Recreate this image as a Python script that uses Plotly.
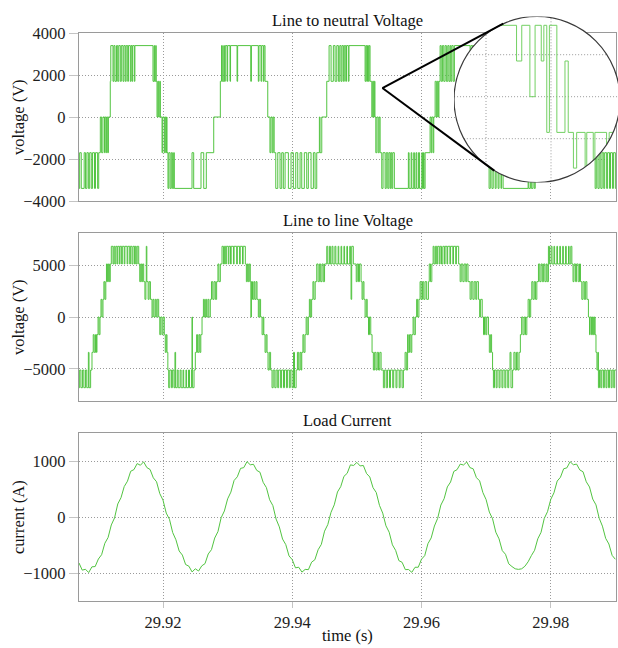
import math
import plotly.graph_objects as go

# ---------------------------------------------------------------- data
T_BASE_S = 29.9      # time origin of every "ms" value below (s)
STEP_V = 1700.0      # one DC-link level step (V)

# line-to-neutral voltage: (time in ms after 29.9 s, level index) - step changes
ln_steps = [
    (7.00, -2), (7.10, -1), (7.35, -2), (7.80, -1), (8.00, -2), (8.22, -1), (8.45, -2), (8.65, -1),
    (8.90, -2), (9.10, -1), (9.40, -2), (9.55, -1), (9.88, -2), (10.05, -1), (10.30, 0), (10.50, -1),
    (10.70, 0), (10.95, -1), (11.05, 0), (11.22, -1), (11.30, 0), (11.45, -1), (11.55, 0), (11.84, 1),
    (11.92, 2), (12.26, 1), (12.40, 2), (12.57, 1), (12.80, 2), (12.99, 1), (13.15, 2), (13.39, 1),
    (13.55, 2), (13.81, 1), (13.95, 2), (14.16, 1), (14.30, 2), (14.54, 1), (14.65, 2), (14.94, 1),
    (15.05, 2), (15.20, 1), (15.30, 2), (15.56, 1), (15.65, 2), (18.45, 1), (18.62, 2), (18.70, 1),
    (18.87, 2), (18.95, 1), (19.07, 0), (19.20, 1), (19.33, 0), (19.50, 1), (19.59, 0), (19.85, -1),
    (19.95, 0), (20.20, -1), (20.30, 0), (20.42, -1), (20.55, 0), (20.62, -1), (20.77, -2), (20.90, -1),
    (21.10, -2), (21.28, -1), (21.45, -2), (21.65, -1), (21.75, -2), (24.49, -1), (24.75, -2), (25.88, -1),
    (26.30, -2), (26.70, -1), (27.85, 0), (28.87, 1), (29.05, 2), (29.18, 1), (29.40, 2), (29.50, 1),
    (29.64, 2), (29.91, 1), (30.00, 2), (30.37, 1), (30.45, 2), (31.46, 1), (31.55, 2), (33.58, 1),
    (33.68, 2), (34.75, 1), (34.85, 2), (35.17, 1), (35.27, 2), (35.53, 1), (35.63, 2), (35.79, 1),
    (36.21, 0), (36.55, -1), (36.70, 0), (36.90, -1), (37.05, 0), (37.20, -1), (37.45, -2), (37.76, -1),
    (38.11, -2), (38.37, -1), (38.62, -2), (38.89, -1), (39.40, -2), (39.81, -1), (40.17, -2), (40.54, -1),
    (40.85, -2), (41.21, -1), (41.47, -2), (41.87, -1), (42.24, -2), (42.49, -1), (42.91, -2), (43.27, -1),
    (43.53, -2), (43.79, -1), (44.20, 0), (44.30, -1), (44.57, 0), (45.34, 1), (45.70, 2), (46.01, 1),
    (46.36, 2), (46.63, 1), (46.89, 2), (47.14, 1), (47.35, 2), (47.55, 1), (47.70, 2), (47.91, 1),
    (48.05, 2), (48.28, 1), (48.40, 2), (48.68, 1), (48.78, 2), (51.27, 1), (51.40, 2), (51.53, 1),
    (51.65, 2), (51.78, 1), (51.90, 2), (52.04, 1), (52.31, 0), (52.45, 1), (52.60, 0), (52.70, 1),
    (52.80, 0), (52.93, -1), (53.10, 0), (53.30, -1), (53.45, 0), (53.60, -1), (53.85, -2), (54.05, -1),
    (54.37, -2), (54.55, -1), (54.78, -2), (54.95, -1), (55.14, -2), (55.25, -1), (55.40, -2), (55.55, -1),
    (55.80, -2), (57.97, -1), (58.08, -2), (58.40, -1), (58.50, -2), (58.80, -1), (58.90, -2), (59.15, -1),
    (59.27, -2), (59.53, -1), (59.70, -2), (60.05, -1), (60.15, -2), (60.31, -1), (60.40, -2), (60.56, -1),
    (61.33, 0), (61.50, -1), (61.60, 0), (61.80, -1), (61.90, 0), (62.11, 1), (62.30, 0), (62.45, 1),
    (62.60, 0), (62.70, 1), (62.88, 2), (63.05, 1), (63.24, 2), (63.45, 1), (63.65, 2), (63.85, 1),
    (64.07, 2), (64.25, 1), (64.43, 2), (64.55, 1), (64.69, 2), (64.90, 1), (65.09, 2), (67.52, 1),
    (67.65, 2), (67.90, 1), (68.00, 2), (68.30, 1), (68.40, 2), (68.60, 1), (68.76, 0), (68.95, 1),
    (69.10, 0), (69.30, 1), (69.40, 0), (69.54, -1), (69.70, 0), (69.90, -1), (70.05, 0), (70.25, -1),
    (70.46, -2), (70.65, -1), (70.90, -2), (71.10, -1), (71.40, -2), (71.55, -1), (71.85, -2), (72.00, -1),
    (72.30, -2), (72.40, -1), (72.63, -2), (76.50, -1), (76.60, -2), (76.85, -1), (77.00, -2), (77.25, -1),
    (77.45, -2), (77.60, -1), (78.36, 0), (78.98, 1), (79.10, 2), (79.35, 1), (79.50, 2), (79.75, 1),
    (79.95, 2), (80.20, 1), (80.40, 2), (80.65, 1), (80.80, 2), (81.10, 1), (81.20, 2), (83.78, 1),
    (83.90, 2), (84.20, 1), (84.35, 2), (84.65, 1), (84.75, 2), (85.10, 1), (85.33, 0), (85.50, 1),
    (85.65, 0), (85.85, 1), (85.95, 0), (86.10, -1), (86.30, 0), (86.45, -1), (86.60, 0), (86.70, -1),
    (86.87, -2), (87.05, -1), (87.30, -2), (87.50, -1), (87.75, -2), (87.95, -1), (88.20, -2), (88.35, -1),
    (88.65, -2), (88.80, -1), (89.10, -2), (89.25, -1), (89.55, -2), (89.70, -1), (90.00, -2), (90.10, -2),
]

# line-to-line voltage: (time in ms after 29.9 s, level index)
ll_steps = [
    (7.00, -4), (7.10, -3), (7.30, -4), (7.55, -3), (7.75, -4), (8.00, -3), (8.20, -4), (8.45, -2),
    (8.55, -4), (8.80, -3), (9.01, -2), (9.20, -1), (9.35, -2), (9.55, -1), (9.70, -2), (9.78, -1),
    (9.95, 0), (10.10, -1), (10.25, 0), (10.40, 1), (10.55, 0), (10.71, 1), (10.85, 2), (11.00, 1),
    (11.15, 2), (11.25, 3), (11.40, 2), (11.55, 3), (11.70, 2), (11.84, 3), (12.00, 4), (12.26, 3),
    (12.40, 4), (12.55, 3), (12.70, 4), (12.90, 3), (13.00, 4), (13.25, 3), (13.35, 4), (13.60, 3),
    (13.70, 4), (14.00, 3), (14.10, 4), (14.45, 3), (14.55, 4), (14.85, 3), (14.95, 4), (15.20, 3),
    (15.35, 4), (15.60, 3), (15.70, 4), (15.85, 3), (16.00, 4), (16.24, 3), (16.40, 2), (16.55, 3),
    (16.70, 2), (16.85, 3), (17.01, 2), (17.20, 1), (17.35, 2), (17.41, 4), (17.50, 2), (17.70, 1),
    (17.85, 2), (18.05, 1), (18.30, 0), (18.45, 1), (18.60, 0), (18.80, 1), (18.95, 0), (19.10, 1),
    (19.33, 0), (19.50, -1), (19.65, 0), (19.85, -1), (20.00, 0), (20.20, -1), (20.35, -2), (20.50, -1),
    (20.62, -2), (20.75, -3), (20.88, -4), (21.05, -3), (21.30, -4), (21.45, -3), (21.70, -4), (21.85, -2),
    (21.95, -4), (22.20, -3), (22.35, -4), (22.65, -3), (22.80, -4), (23.10, -3), (23.20, -4), (23.55, -3),
    (23.65, -4), (23.95, -3), (24.10, -4), (24.40, -3), (24.49, 0), (24.55, -4), (24.80, -3), (25.00, -2),
    (25.20, -1), (25.35, -2), (25.55, -1), (25.70, -2), (25.85, -1), (26.04, 0), (26.25, 1), (26.40, 0),
    (26.60, 1), (26.75, 0), (26.95, 1), (27.10, 0), (27.32, 1), (27.50, 2), (27.70, 1), (27.90, 2),
    (28.10, 1), (28.30, 2), (28.50, 3), (28.65, 2), (28.87, 3), (29.13, 4), (29.35, 3), (29.50, 4),
    (29.70, 3), (29.80, 4), (30.10, 3), (30.20, 4), (30.45, 3), (30.55, 4), (30.90, 3), (31.00, 4),
    (31.40, 3), (31.50, 4), (31.85, 3), (31.95, 4), (32.30, 3), (32.40, 4), (32.74, 3), (32.90, 2),
    (33.05, 3), (33.20, 2), (33.35, 3), (33.51, 2), (33.60, 0), (33.68, 2), (33.85, 1), (34.05, 2),
    (34.20, 1), (34.40, 2), (34.55, 1), (34.75, 0), (34.90, 1), (35.10, 0), (35.33, -1), (35.50, 0),
    (35.60, -1), (35.79, -2), (35.95, -1), (36.10, -2), (36.25, -3), (36.45, -2), (36.65, -3), (36.87, -4),
    (37.05, -3), (37.30, -4), (37.50, -3), (37.75, -4), (37.90, -3), (38.20, -4), (38.35, -3), (38.65, -4),
    (38.80, -3), (39.10, -4), (39.25, -3), (39.55, -4), (39.70, -3), (39.97, -4), (40.20, -2), (40.35, -4),
    (40.60, -3), (40.80, -2), (41.00, -3), (41.20, -2), (41.35, -3), (41.47, -2), (41.65, -1), (41.80, -2),
    (41.98, -1), (42.15, 0), (42.30, -1), (42.49, 0), (42.65, 1), (42.80, 0), (43.00, 1), (43.20, 2),
    (43.35, 1), (43.55, 2), (43.79, 3), (44.00, 2), (44.20, 3), (44.40, 2), (44.60, 3), (44.80, 2),
    (45.00, 3), (45.34, 4), (45.50, 3), (45.75, 4), (45.90, 3), (46.15, 4), (46.30, 3), (46.60, 4),
    (46.75, 3), (47.10, 4), (47.20, 3), (47.55, 4), (47.65, 3), (48.00, 4), (48.10, 3), (48.45, 4),
    (48.55, 3), (48.90, 4), (49.00, 3), (49.10, 1), (49.20, 4), (49.45, 3), (49.90, 2), (50.05, 3),
    (50.25, 2), (50.40, 3), (50.65, 2), (50.80, 1), (50.95, 2), (51.10, 1), (51.27, 0), (51.45, 1),
    (51.60, 0), (51.80, -1), (51.95, 0), (52.15, -1), (52.35, -2), (52.55, -3), (52.75, -2), (52.95, -3),
    (53.15, -2), (53.35, -3), (53.55, -2), (53.75, -3), (54.10, -4), (54.30, -3), (54.55, -4), (54.75, -3),
    (55.05, -4), (55.20, -3), (55.55, -4), (55.70, -3), (56.05, -4), (56.20, -3), (56.55, -4), (56.70, -3),
    (57.00, -4), (57.20, -3), (57.46, -2), (57.65, -3), (57.85, -1), (57.95, -2), (58.15, -1), (58.35, -2),
    (58.50, -1), (58.70, 0), (58.85, -1), (59.05, 0), (59.25, 1), (59.40, 0), (59.60, 1), (59.78, 2),
    (59.95, 1), (60.15, 2), (60.35, 1), (60.55, 2), (60.80, 1), (61.07, 2), (61.20, 3), (61.40, 2),
    (61.60, 3), (61.80, 4), (61.95, 3), (62.15, 4), (62.35, 3), (62.50, 4), (62.75, 3), (62.88, 4),
    (63.10, 3), (63.30, 4), (63.55, 3), (63.65, 4), (63.95, 3), (64.05, 4), (64.40, 3), (64.50, 4),
    (64.85, 3), (64.95, 4), (65.30, 3), (65.40, 4), (65.75, 3), (65.98, 2), (66.15, 3), (66.40, 2),
    (66.60, 3), (66.85, 2), (67.00, 3), (67.20, 2), (67.52, 1), (67.70, 2), (67.95, 1), (68.15, 2),
    (68.40, 1), (68.55, 2), (68.81, 1), (69.00, 0), (69.15, 1), (69.40, 0), (69.60, -1), (69.75, 0),
    (69.95, -1), (70.10, 0), (70.36, -1), (70.50, -2), (70.70, -1), (70.85, -2), (71.00, -3), (71.13, -4),
    (71.30, -3), (71.55, -4), (71.70, -3), (72.00, -4), (72.15, -3), (72.45, -4), (72.60, -3), (72.90, -4),
    (73.05, -3), (73.35, -4), (73.50, -3), (73.70, -2), (73.85, -4), (74.10, -3), (74.30, -2), (74.49, -3),
    (74.70, -2), (74.90, -3), (75.10, -2), (75.30, -1), (75.50, 0), (75.70, -1), (75.90, 0), (76.10, -1),
    (76.30, 0), (76.50, 1), (76.70, 0), (76.90, 1), (77.07, 2), (77.25, 1), (77.45, 2), (77.65, 1),
    (77.85, 2), (78.10, 3), (78.30, 2), (78.50, 3), (78.70, 2), (78.90, 3), (79.10, 2), (79.30, 3),
    (79.45, 2), (79.64, 4), (79.80, 3), (80.05, 4), (80.20, 3), (80.50, 4), (80.60, 3), (80.95, 4),
    (81.05, 3), (81.40, 4), (81.50, 3), (81.85, 4), (81.95, 3), (82.30, 4), (82.40, 3), (82.75, 4),
    (82.85, 3), (83.10, 4), (83.27, 3), (83.45, 2), (83.60, 3), (83.85, 2), (84.00, 3), (84.25, 2),
    (84.45, 3), (84.60, 2), (84.81, 1), (85.00, 2), (85.20, 1), (85.40, 2), (85.60, 1), (85.83, 0),
    (86.00, -1), (86.10, 0), (86.30, -1), (86.45, 0), (86.60, -1), (86.75, 0), (86.87, -1), (87.00, -2),
    (87.15, -3), (87.30, -2), (87.38, -4), (87.55, -3), (87.75, -4), (87.90, -3), (88.15, -4), (88.30, -3),
    (88.55, -4), (88.70, -3), (88.95, -4), (89.10, -3), (89.35, -4), (89.50, -3), (89.75, -4), (89.90, -3),
    (90.10, -3),
]

# load current samples
cur_t_ms = [
    7.0, 7.5, 8.0, 8.5, 9.0, 9.5, 10.0, 10.5, 11.0, 11.5, 12.0, 12.5, 13.0, 13.5, 14.0, 14.5,
    15.0, 15.5, 16.0, 16.5, 17.0, 17.5, 18.0, 18.5, 19.0, 19.5, 20.0, 20.5, 21.0, 21.5, 22.0, 22.5,
    23.0, 23.5, 24.0, 24.5, 25.0, 25.5, 26.0, 26.5, 27.0, 27.5, 28.0, 28.5, 29.0, 29.5, 30.0, 30.5,
    31.0, 31.5, 32.0, 32.5, 33.0, 33.5, 34.0, 34.5, 35.0, 35.5, 36.0, 36.5, 37.0, 37.5, 38.0, 38.5,
    39.0, 39.5, 40.0, 40.5, 41.0, 41.5, 42.0, 42.5, 43.0, 43.5, 44.0, 44.5, 45.0, 45.5, 46.0, 46.5,
    47.0, 47.5, 48.0, 48.5, 49.0, 49.5, 50.0, 50.5, 51.0, 51.5, 52.0, 52.5, 53.0, 53.5, 54.0, 54.5,
    55.0, 55.5, 56.0, 56.5, 57.0, 57.5, 58.0, 58.5, 59.0, 59.5, 60.0, 60.5, 61.0, 61.5, 62.0, 62.5,
    63.0, 63.5, 64.0, 64.5, 65.0, 65.5, 66.0, 66.5, 67.0, 67.5, 68.0, 68.5, 69.0, 69.5, 70.0, 70.5,
    71.0, 71.5, 72.0, 72.5, 73.0, 73.5, 74.0, 74.5, 75.0, 75.5, 76.0, 76.5, 77.0, 77.5, 78.0, 78.5,
    79.0, 79.5, 80.0, 80.5, 81.0, 81.5, 82.0, 82.5, 83.0, 83.5, 84.0, 84.5, 85.0, 85.5, 86.0, 86.5,
    87.0, 87.5, 88.0, 88.5, 89.0, 89.5, 90.0,
]
cur_amp = [
    -821, -949, -934, -992, -890, -885, -750, -673, -469, -366, -142, -17, 233, 345, 544, 640,
    817, 846, 954, 924, 985, 883, 848, 700, 629, 418, 301, 70, -41, -278, -407, -607,
    -680, -849, -878, -981, -925, -965, -872, -833, -660, -583, -376, -261, -12, 108, 324, 444,
    652, 718, 868, 882, 989, 932, 941, 833, 800, 619, 525, 308, 204, -37, -176, -394,
    -493, -695, -762, -908, -897, -984, -936, -940, -806, -763, -585, -489, -253, -136, 84, 217,
    447, 541, 726, 780, 931, 920, 975, 912, 920, 776, 715, 524, 437, 207, 69, -157,
    -272, -497, -596, -779, -809, -940, -938, -988, -898, -897, -754, -690, -476, -374, -161, -25,
    214, 327, 537, 625, 814, 845, 945, 928, 982, 882, 860, 703, 645, 436, 310, 88,
    -32, -271, -390, -600, -666, -836, -885, -925, -935, -925, -880, -800, -690, -594, -389, -274,
    -25, 95, 312, 432, 642, 709, 861, 878, 987, 933, 945, 840, 808, 629, 536, 320,
    217, -22, -163, -381, -482, -685, -755,
]

# magnified view (circle inset): (inset time in ms, level index)
zoom_steps = [
    (51.00, 2), (52.94, 1), (53.10, 2), (53.35, 0), (53.51, 2), (53.70, 1), (53.78, 2), (53.87, -1),
    (53.95, 2), (54.18, -1), (54.43, 1), (54.53, -1), (54.69, -2), (54.79, -1), (55.05, -2), (55.10, -1),
    (55.30, -2), (55.35, -1), (55.71, -2), (55.79, -1), (56.06, -1),
]

x_tick_vals = [29.92, 29.94, 29.96, 29.98]
x_tick_text = ["29.92", "29.94", "29.96", "29.98"]
ln_tick_vals = [-4000, -2000, 0, 2000, 4000]
ll_tick_vals = [-5000, 0, 5000]
cur_tick_vals = [-1000, 0, 1000]
zoom_grid_ms = [52.0, 54.0]
zoom_grid_v = [-2000, 0, 2000]
panel_titles = ["Line to neutral Voltage", "Line to line Voltage", "Load Current"]

# ---------------------------------------------------------------- style / geometry
GREEN = "#52c441"
GREEN_LIGHT = "#73d063"
GRID = "#9a9a9a"
DOT = "1px,2px"
FRAME = "#9a9a9a"
FONT = "Liberation Serif"
FS = 16.5

W, H = 618, 648
ML, MT, MB = 79, 10, 47
PW, PH = W - ML, H - MT - MB


def fx(px):
    return (px - ML) / PW


def fy(py):
    return (H - MB - py) / PH


PLOT_L, PLOT_R = 79, 616
PANELS = [(33, 201), (233, 401), (433, 601)]
X_RANGE = [29.907, 29.9901]
Y_RANGES = [[-4000, 4000], [-8080, 8080], [-1500, 1500]]

# inset circle (px) and its scales
CX, CY, R = 537.0, 99.5, 83.0
INS_PX_PER_MS = 32.5
INS_REF_PX, INS_REF_MS = 486.0, 52.0
INS_ZERO_PY = 96.7
V_PX = (PANELS[0][1] - PANELS[0][0]) / (Y_RANGES[0][1] - Y_RANGES[0][0])


def ins_ms(px):
    return INS_REF_MS + (px - INS_REF_PX) / INS_PX_PER_MS


def ins_v(py):
    return (INS_ZERO_PY - py) / V_PX


INS_X_DOM = [fx(CX - R), 1.0]
INS_Y_DOM = [fy(CY + R), fy(CY - R)]
INS_X_RANGE = [ins_ms(CX - R), ins_ms(W)]
INS_Y_RANGE = [ins_v(CY + R), ins_v(CY - R)]
TC, VC = ins_ms(CX), ins_v(CY)
RT, RV = R / INS_PX_PER_MS, R / V_PX


def clip_seg(p, q):
    (t1, v1), (t2, v2) = p, q
    if abs(v1 - v2) < 1e-9:
        d = 1 - ((v1 - VC) / RV) ** 2
        if d <= 0:
            return None
        w = RT * math.sqrt(d)
        lo, hi = max(min(t1, t2), TC - w), min(max(t1, t2), TC + w)
        if lo >= hi:
            return None
        return ((lo, v1), (hi, v1)) if t1 <= t2 else ((hi, v1), (lo, v1))
    d = 1 - ((t1 - TC) / RT) ** 2
    if d <= 0:
        return None
    h = RV * math.sqrt(d)
    lo, hi = max(min(v1, v2), VC - h), min(max(v1, v2), VC + h)
    if lo >= hi:
        return None
    return ((t1, lo), (t1, hi)) if v1 <= v2 else ((t1, hi), (t1, lo))


def clip_path(segs):
    xs, ys, last = [], [], None
    for p, q in segs:
        c = clip_seg(p, q)
        if c is None:
            if last is not None:
                xs.append(None); ys.append(None)
            last = None
            continue
        a, b = c
        if last is None or abs(a[0] - last[0]) > 1e-9 or abs(a[1] - last[1]) > 1e-6:
            if last is not None:
                xs.append(None); ys.append(None)
            xs.append(a[0]); ys.append(a[1])
        xs.append(b[0]); ys.append(b[1])
        last = b
    return xs, ys


def step_segments(steps):
    segs = []
    for i in range(len(steps) - 1):
        t0, l0 = steps[i]
        t1, l1 = steps[i + 1]
        segs.append(((t0, l0 * STEP_V), (t1, l0 * STEP_V)))
        if l1 != l0:
            segs.append(((t1, l0 * STEP_V), (t1, l1 * STEP_V)))
    return segs


def steps_xy(steps):
    return [T_BASE_S + t / 1000.0 for t, _ in steps], [lv * STEP_V for _, lv in steps]


fig = go.Figure()

t, v = steps_xy(ln_steps)
fig.add_trace(go.Scatter(x=t, y=v, mode="lines", line=dict(color=GREEN, width=1, shape="hv"),
                         xaxis="x", yaxis="y", hoverinfo="skip"))
t, v = steps_xy(ll_steps)
fig.add_trace(go.Scatter(x=t, y=v, mode="lines", line=dict(color=GREEN, width=1, shape="hv"),
                         xaxis="x2", yaxis="y2", hoverinfo="skip"))
fig.add_trace(go.Scatter(x=[T_BASE_S + a / 1000.0 for a in cur_t_ms], y=cur_amp, mode="lines",
                         line=dict(color=GREEN, width=1), xaxis="x3", yaxis="y3", hoverinfo="skip"))

# inset grid (clipped to the circle)
grid_segs = []
for gt in zoom_grid_ms:
    grid_segs.append(((gt, INS_Y_RANGE[0]), (gt, INS_Y_RANGE[1])))
for gv in zoom_grid_v:
    grid_segs.append(((INS_X_RANGE[0], gv), (INS_X_RANGE[1], gv)))
gx, gy = [], []
for s in grid_segs:
    a, b = clip_path([s])
    gx += a + [None]
    gy += b + [None]
fig.add_trace(go.Scatter(x=gx, y=gy, mode="lines", line=dict(color=GRID, width=1, dash=DOT),
                         xaxis="x4", yaxis="y4", hoverinfo="skip"))
zx, zy = clip_path(step_segments(zoom_steps))
fig.add_trace(go.Scatter(x=zx, y=zy, mode="lines", line=dict(color=GREEN_LIGHT, width=1),
                         xaxis="x4", yaxis="y4", hoverinfo="skip"))

axis_common = dict(showline=True, mirror=True, linecolor=FRAME, linewidth=1.3,
                   showgrid=True, gridcolor=GRID, griddash=DOT, gridwidth=1,
                   zeroline=False, tickfont=dict(family=FONT, size=FS, color="#1e1e1e"))

layout = dict(width=W, height=H, margin=dict(l=ML, r=0, t=MT, b=MB),
              paper_bgcolor="white", plot_bgcolor="rgba(0,0,0,0)", showlegend=False)

names = ["", "2", "3"]
yvals = [ln_tick_vals, ll_tick_vals, cur_tick_vals]
for i, (top, bot) in enumerate(PANELS):
    n = names[i]
    xa = dict(axis_common, domain=[fx(PLOT_L), fx(PLOT_R)], range=X_RANGE, anchor="y" + n,
              tickvals=x_tick_vals, ticktext=x_tick_text)
    if i < 2:
        xa.update(showticklabels=False, ticks="")
    else:
        xa.update(ticks="outside", ticklen=6, tickcolor="#c4c4c4", tickwidth=1)
    ya = dict(axis_common, domain=[fy(bot), fy(top)], range=Y_RANGES[i], anchor="x" + n,
              tickvals=yvals[i], ticks="outside", ticklen=9, tickcolor="#c4c4c4", tickwidth=1)
    layout["xaxis" + n] = xa
    layout["yaxis" + n] = ya

layout["xaxis4"] = dict(domain=INS_X_DOM, range=INS_X_RANGE, anchor="y4", visible=False)
layout["yaxis4"] = dict(domain=INS_Y_DOM, range=INS_Y_RANGE, anchor="x4", visible=False)

# shapes: white disc under the inset, circle outline and callout lines
apex_t_ms, apex_v = 53.95, 1380.0
apx = PLOT_L + ((T_BASE_S + apex_t_ms / 1000.0) - X_RANGE[0]) / (X_RANGE[1] - X_RANGE[0]) * (PLOT_R - PLOT_L)
apy = PANELS[0][0] + (Y_RANGES[0][1] - apex_v) * V_PX
shapes = [
    dict(type="circle", xref="x4", yref="y4", x0=TC - RT, x1=TC + RT, y0=VC - RV, y1=VC + RV,
         fillcolor="white", line=dict(width=0), layer="below"),
    dict(type="circle", xref="x4", yref="y4", x0=TC - RT, x1=TC + RT, y0=VC - RV, y1=VC + RV,
         fillcolor="rgba(0,0,0,0)", line=dict(color="#3a3a3a", width=1.2), layer="above"),
]
for ang in (246.0, 121.0):
    ex = CX + R * math.cos(math.radians(ang))
    ey = CY + R * math.sin(math.radians(ang))
    shapes.append(dict(type="line", xref="paper", yref="paper", x0=fx(apx), y0=fy(apy),
                       x1=fx(ex), y1=fy(ey), line=dict(color="black", width=2), layer="above"))
layout["shapes"] = shapes

tf = dict(family=FONT, size=FS, color="#111111")
mid_x = fx((PLOT_L + PLOT_R) / 2)
ann = []
for title, py in zip(panel_titles, (21, 220.5, 420.5)):
    ann.append(dict(text=title, x=mid_x, y=fy(py), xref="paper", yref="paper", showarrow=False,
                    xanchor="center", yanchor="middle", font=tf))
ann.append(dict(text="time (s)", x=mid_x, y=fy(635), xref="paper", yref="paper", showarrow=False,
                xanchor="center", yanchor="middle", font=tf))
for txt, py in (("voltage (V)", 117), ("voltage (V)", 317), ("current (A)", 517)):
    ann.append(dict(text=txt, x=fx(18), y=fy(py), xref="paper", yref="paper", showarrow=False,
                    xanchor="center", yanchor="middle", textangle=-90, font=tf))
layout["annotations"] = ann

fig.update_layout(**layout)
fig.write_html("out.html")
